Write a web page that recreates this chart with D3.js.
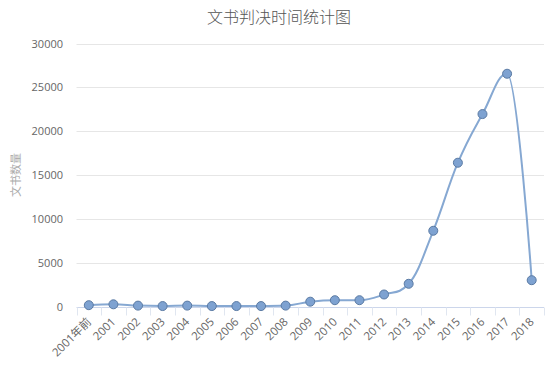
<!DOCTYPE html>
<html><head><meta charset="utf-8">
<script src="https://cdn.jsdelivr.net/npm/d3@7"></script>
<style>body{margin:0;background:#fff}svg{display:block}</style>
</head><body>
<svg id="c" width="556" height="370"></svg>
<script>
const categories = ["2001年前","2001","2002","2003","2004","2005","2006","2007","2008","2009","2010","2011","2012","2013","2014","2015","2016","2017","2018"];
const values = [150,250,100,50,100,50,50,50,100,550,720,720,1370,2590,8640,16400,21950,26550,3000];
const yTicks = [0,5000,10000,15000,20000,25000,30000];
const title = "文书判决时间统计图";
const yTitle = "文书数量";

const svg = d3.select("#c");
const W = 556, H = 370;
const m = {left:76.5, right:12, top:43.5, bottom:63.5};
const x = d3.scaleBand().domain(categories).range([m.left, W - m.right]);
const y = d3.scaleLinear().domain([0,30000]).range([H - m.bottom, m.top]);
const font = "'Open Sans','Noto Sans CJK SC','Noto Sans',sans-serif";
const cjk = "'Noto Sans CJK SC','Noto Sans',sans-serif";

svg.append("text").attr("x", 279).attr("y", 23).attr("text-anchor","middle")
  .attr("font-family", cjk).attr("font-size", 16).attr("font-weight", 300).attr("fill","#555").text(title);

// grid
svg.append("g").selectAll("line").data(yTicks.filter(d=>d>0)).join("line")
  .attr("x1", m.left).attr("x2", W - m.right)
  .attr("y1", d=>Math.round(y(d))+0.5).attr("y2", d=>Math.round(y(d))+0.5)
  .attr("stroke","#e6e6e6");

// y labels
svg.append("g").selectAll("text").data(yTicks).join("text")
  .attr("x", 63).attr("y", d=>y(d)+4).attr("text-anchor","end")
  .attr("font-family", font).attr("font-size", 11).attr("fill","#666").text(d=>d);

svg.append("text").attr("transform", `translate(20,${(m.top + H - m.bottom)/2}) rotate(-90)`)
  .attr("text-anchor","middle").attr("font-family", cjk).attr("font-size", 11)
  .attr("fill","#aaa").text(yTitle);

// x axis
const y0 = Math.round(y(0)) + 0.5;
svg.append("line").attr("x1", m.left).attr("x2", W - m.right).attr("y1", y0).attr("y2", y0)
  .attr("stroke","#ccd6eb");
const bounds = categories.map(c=>x(c)).concat([x(categories[categories.length-1]) + x.bandwidth()]);
svg.append("g").selectAll("line").data(bounds).join("line")
  .attr("x1", d=>Math.round(d)+0.5).attr("x2", d=>Math.round(d)+0.5)
  .attr("y1", y0).attr("y2", y0 + 8).attr("stroke","#e0e6f0");
svg.append("g").selectAll("text").data(categories).join("text")
  .attr("transform", d=>`translate(${x(d)+x.bandwidth()/2+3},${y0+15}) rotate(-45)`)
  .attr("text-anchor","end").attr("font-family", font).attr("font-size", 11.5)
  .attr("fill","#666").text(d=>d);

// Highcharts-like spline curve
function hcSpline(context) {
  let pts;
  return {
    areaStart(){}, areaEnd(){},
    lineStart(){ pts = []; },
    point(px, py){ pts.push([+px, +py]); },
    lineEnd(){
      const n = pts.length; if (!n) return;
      const L = [], R = [];
      for (let i = 0; i < n; i++) {
        const [px, py] = pts[i];
        if (i === 0 || i === n-1) { L[i] = [px,py]; R[i] = [px,py]; continue; }
        const [lx, ly] = pts[i-1], [nx, ny] = pts[i+1];
        const s = 1.5, dn = 2.5;
        let lcx = (s*px + lx)/dn, lcy = (s*py + ly)/dn;
        let rcx = (s*px + nx)/dn, rcy = (s*py + ny)/dn;
        if (rcx !== lcx) {
          const corr = ((rcy - lcy)*(rcx - px))/(rcx - lcx) + py - rcy;
          lcy += corr; rcy += corr;
          if (lcy > ly && lcy > py) { lcy = Math.max(ly, py); rcy = 2*py - lcy; }
          else if (lcy < ly && lcy < py) { lcy = Math.min(ly, py); rcy = 2*py - lcy; }
          if (rcy > ny && rcy > py) { rcy = Math.max(ny, py); lcy = 2*py - rcy; }
          else if (rcy < ny && rcy < py) { rcy = Math.min(ny, py); lcy = 2*py - rcy; }
        }
        L[i] = [lcx, lcy]; R[i] = [rcx, rcy];
      }
      context.moveTo(pts[0][0], pts[0][1]);
      for (let i = 1; i < n; i++) {
        context.bezierCurveTo(R[i-1][0], R[i-1][1], L[i][0], L[i][1], pts[i][0], pts[i][1]);
      }
    }
  };
}

const cx = d => x(d) + x.bandwidth()/2;
const line = d3.line().x((d,i)=>cx(categories[i])).y(d=>y(d)).curve(hcSpline);
svg.append("path").attr("d", line(values)).attr("fill","none")
  .attr("stroke","#86a8d2").attr("stroke-width", 2);

svg.append("g").selectAll("circle").data(values).join("circle")
  .attr("cx", (d,i)=>cx(categories[i])).attr("cy", d=>y(d)).attr("r", 4.5)
  .attr("fill","#7ea2d1").attr("stroke","#5a7aa3").attr("stroke-width", 1);
</script>
</body></html>
